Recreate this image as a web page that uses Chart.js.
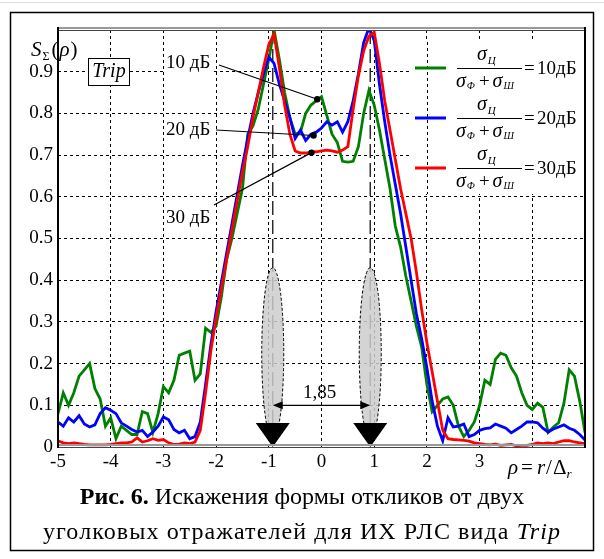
<!DOCTYPE html>
<html>
<head>
<meta charset="utf-8">
<script src="https://cdn.jsdelivr.net/npm/chart.js@4.4.0/dist/chart.umd.min.js"></script>
<style>
html, body { margin: 0; padding: 0; background: #fff; }
#wrap { position: relative; width: 604px; height: 559px; }
#caption {
    position: absolute; left: 0; top: 479px; width: 604px;
    text-align: center; font-family: "Liberation Serif", serif;
    font-size: 24px; line-height: 35px; color: #000;
}
#caption .l2 { letter-spacing: 1.1px; }
</style>
</head>
<body>
<div id="wrap">
    <canvas id="chart" width="604" height="559"></canvas>
    <div id="caption"><b>Рис. 6.</b> Искажения формы откликов от двух<br><span class="l2">уголковых отражателей для ИХ РЛС вида <i>Trip</i></span></div>
</div>
<script>
// rho = r / delta_r, step 0.1
const rho = [
    -5.0, -4.9, -4.8, -4.7, -4.6, -4.5, -4.4, -4.3, -4.2, -4.1,
    -4.0, -3.9, -3.8, -3.7, -3.6, -3.5, -3.4, -3.3, -3.2, -3.1,
    -3.0, -2.9, -2.8, -2.7, -2.6, -2.5, -2.4, -2.3, -2.2, -2.1,
    -2.0, -1.9, -1.8, -1.7, -1.6, -1.5, -1.4, -1.3, -1.2, -1.1,
    -1.0, -0.9, -0.8, -0.7, -0.6, -0.5, -0.4, -0.3, -0.2, -0.1,
    0.0, 0.1, 0.2, 0.3, 0.4, 0.5, 0.6, 0.7, 0.8, 0.9,
    1.0, 1.1, 1.2, 1.3, 1.4, 1.5, 1.6, 1.7, 1.8, 1.9,
    2.0, 2.1, 2.2, 2.3, 2.4, 2.5, 2.6, 2.7, 2.8, 2.9,
    3.0, 3.1, 3.2, 3.3, 3.4, 3.5, 3.6, 3.7, 3.8, 3.9,
    4.0, 4.1, 4.2, 4.3, 4.4, 4.5, 4.6, 4.7, 4.8, 4.9,
    5.0
];

// S_sigma(rho), 10 dB
const s10 = [
    0.08, 0.13, 0.10, 0.13, 0.17, 0.185, 0.20, 0.14, 0.115, 0.05,
    0.07, 0.02, 0.05, 0.04, 0.03, 0.03, 0.085, 0.08, 0.035, 0.08,
    0.145, 0.13, 0.16, 0.22, 0.225, 0.23, 0.16, 0.175, 0.285, 0.275,
    0.29, 0.36, 0.45, 0.50, 0.56, 0.62, 0.75, 0.77, 0.81, 0.87,
    0.93, 1.0, 0.93, 0.85, 0.79, 0.75, 0.755, 0.80, 0.82, 0.83,
    0.84, 0.795, 0.75, 0.73, 0.685, 0.683, 0.685, 0.72, 0.80, 0.855,
    0.82, 0.76, 0.69, 0.62, 0.53, 0.48, 0.41, 0.35, 0.29, 0.24,
    0.15, 0.085, 0.10, 0.115, 0.12, 0.10, 0.05, 0.025, 0.04, 0.06,
    0.10, 0.16, 0.15, 0.21, 0.225, 0.22, 0.19, 0.17, 0.13, 0.10,
    0.09, 0.105, 0.095, 0.035, 0.048, 0.058, 0.105, 0.185, 0.17, 0.11,
    0.035
];

// 20 dB
const s20 = [
    0.06, 0.05, 0.07, 0.06, 0.075, 0.055, 0.048, 0.053, 0.08, 0.094,
    0.088, 0.08, 0.058, 0.05, 0.042, 0.036, 0.04, 0.025, 0.036, 0.05,
    0.072, 0.065, 0.042, 0.034, 0.04, 0.02, 0.025, 0.06, 0.15, 0.245,
    0.325, 0.395, 0.465, 0.535, 0.605, 0.675, 0.74, 0.80, 0.85, 0.895,
    0.935, 0.92, 0.87, 0.83, 0.79, 0.74, 0.76, 0.735, 0.75, 0.755,
    0.765, 0.78, 0.772, 0.78, 0.755, 0.78, 0.83, 0.895, 0.97, 1.005,
    0.975, 0.87, 0.78, 0.70, 0.63, 0.56, 0.48, 0.40, 0.32, 0.26,
    0.19, 0.11, 0.05, 0.015, 0.07, 0.048, 0.05, 0.055, 0.025, 0.03,
    0.04, 0.044, 0.046, 0.055, 0.05, 0.045, 0.034, 0.042, 0.05, 0.06,
    0.06, 0.058, 0.045, 0.036, 0.043, 0.048, 0.053, 0.045, 0.04, 0.03,
    0.017
];

// 30 dB
const s30 = [
    0.015, 0.01, 0.008, 0.01, 0.008, 0.006, 0.005, 0.005, 0.005, 0.005,
    0.006, 0.008, 0.01, 0.01, 0.012, 0.022, 0.012, 0.015, 0.02, 0.016,
    0.018, 0.01, 0.006, 0.007, 0.01, 0.008, 0.012, 0.04, 0.13, 0.23,
    0.31, 0.38, 0.45, 0.52, 0.59, 0.66, 0.72, 0.79, 0.85, 0.91,
    0.965, 0.99, 0.91, 0.82, 0.75, 0.71, 0.705, 0.705, 0.707, 0.708,
    0.71, 0.712, 0.71, 0.707, 0.712, 0.72, 0.81, 0.89, 0.95, 0.985,
    0.995, 0.92, 0.83, 0.76, 0.69, 0.62, 0.56, 0.50, 0.42, 0.33,
    0.25, 0.18, 0.11, 0.04, 0.02, 0.018, 0.017, 0.016, 0.014, 0.01,
    0.008, 0.006, 0.005, 0.007, 0.004, 0.005, 0.006, 0.003, 0.004, 0.004,
    0.006, 0.01, 0.008, 0.01, 0.008, 0.012, 0.015, 0.015, 0.012, 0.01,
    0.008
];

const seriesLabels = ['10дБ', '20дБ', '30дБ'];
const seriesColors = ['#008000', '#0000ff', '#ff0000'];

// annotation points (data units)
const targetPos = [-0.925, 0.925];
const spacingLabel = '1,85';
const markerLabels = ['10 дБ', '20 дБ', '30 дБ'];
const markerPoints = [[-0.08, 0.834], [-0.15, 0.747], [-0.19, 0.706]];

const serif = '"Liberation Serif", "Times New Roman", serif';

function toPoints(values) {
    return values.map((v, i) => ({x: rho[i], y: v}));
}

/**
 * Draws text pieces one after another
 * @param ctx
 * @param x
 * @param y
 * @param parts [text, font, dy, gap]
 */
function drawRun(ctx, x, y, parts) {
    ctx.textAlign = 'left';
    ctx.textBaseline = 'alphabetic';
    for (const p of parts) {
        ctx.font = p[1];
        ctx.fillText(p[0], x, y + (p[2] || 0));
        x += ctx.measureText(p[0]).width + (p[3] || 0);
    }
}

const decorPlugin = {
    id: 'decor',
    beforeDatasetsDraw(chart) {
        const ctx = chart.ctx;
        const xs = chart.scales.x, ys = chart.scales.y;
        const area = chart.chartArea;
        const y0 = ys.getPixelForValue(0);
        ctx.save();

        // legend area: hide the grid behind it, keep the x = 2 line
        ctx.fillStyle = '#fff';
        ctx.fillRect(411, 42, 173, 152);
        const x2 = Math.round(xs.getPixelForValue(2)) + 0.5;
        ctx.strokeStyle = '#000';
        ctx.lineWidth = 1;
        ctx.setLineDash([3, 3]);
        ctx.beginPath();
        ctx.moveTo(x2, 42); ctx.lineTo(x2, 194);
        ctx.stroke();

        for (const t of targetPos) {
            const cx = xs.getPixelForValue(t);
            // long-dash vertical line
            ctx.strokeStyle = '#222';
            ctx.lineWidth = 1.4;
            ctx.setLineDash([14, 5]);
            ctx.beginPath();
            ctx.moveTo(cx, area.top);
            ctx.lineTo(cx, y0 - 22);
            ctx.stroke();
            // ellipse
            const eTop = ys.getPixelForValue(0.43);
            const eBot = y0 - 8;
            ctx.setLineDash([3, 2]);
            ctx.lineWidth = 1;
            ctx.fillStyle = 'rgba(205,205,205,0.85)';
            ctx.beginPath();
            ctx.ellipse(cx, (eTop + eBot) / 2, 11, (eBot - eTop) / 2, 0, 0, Math.PI * 2);
            ctx.fill();
            ctx.strokeStyle = '#000';
            ctx.stroke();
            ctx.setLineDash([]);
        }
        // spacing arrow
        const xl = xs.getPixelForValue(targetPos[0]);
        const xr = xs.getPixelForValue(targetPos[1]);
        const ya = ys.getPixelForValue(0.1);
        ctx.strokeStyle = '#000';
        ctx.fillStyle = '#000';
        ctx.lineWidth = 1.3;
        ctx.beginPath();
        ctx.moveTo(xl + 6, ya);
        ctx.lineTo(xr - 6, ya);
        ctx.stroke();
        ctx.beginPath();
        ctx.moveTo(xl, ya); ctx.lineTo(xl + 10, ya - 4); ctx.lineTo(xl + 10, ya + 4); ctx.closePath();
        ctx.moveTo(xr, ya); ctx.lineTo(xr - 10, ya - 4); ctx.lineTo(xr - 10, ya + 4); ctx.closePath();
        ctx.fill();
        ctx.font = '19px ' + serif;
        ctx.textAlign = 'center';
        ctx.textBaseline = 'alphabetic';
        ctx.fillText(spacingLabel, (xl + xr) / 2 - 2, ya - 7);
        // triangles
        for (const t of targetPos) {
            const cx = xs.getPixelForValue(t);
            ctx.beginPath();
            ctx.moveTo(cx, y0);
            ctx.lineTo(cx - 17, y0 - 24);
            ctx.lineTo(cx + 17, y0 - 24);
            ctx.closePath();
            ctx.fill();
        }
        ctx.restore();
    },
    afterDraw(chart) {
        const ctx = chart.ctx;
        const xs = chart.scales.x, ys = chart.scales.y;
        const a = chart.chartArea;
        ctx.save();
        // outer frame
        ctx.strokeStyle = '#ddd';
        ctx.lineWidth = 1;
        ctx.beginPath(); ctx.moveTo(0, 2.5); ctx.lineTo(604, 2.5); ctx.stroke();
        ctx.strokeStyle = '#000';
        ctx.lineWidth = 1.5;
        ctx.strokeRect(10.5, 12.5, 583, 538);
        // plot frame
        ctx.strokeStyle = '#999';
        ctx.lineWidth = 2;
        ctx.beginPath();
        ctx.moveTo(a.left, a.top - 2); ctx.lineTo(a.right, a.top - 2);
        ctx.moveTo(a.left, a.bottom - 2); ctx.lineTo(a.right, a.bottom - 2);
        ctx.stroke();
        ctx.strokeStyle = '#444';
        ctx.lineWidth = 1;
        ctx.beginPath();
        ctx.moveTo(a.left, a.top + 0.5); ctx.lineTo(a.right, a.top + 0.5);
        ctx.moveTo(a.left, a.bottom + 0.5); ctx.lineTo(a.right, a.bottom + 0.5);
        ctx.stroke();
        ctx.strokeStyle = '#000';
        ctx.lineWidth = 2;
        ctx.beginPath();
        ctx.moveTo(a.left, a.top - 3); ctx.lineTo(a.left, a.bottom + 1);
        ctx.moveTo(a.right, a.top - 3); ctx.lineTo(a.right, a.bottom + 1);
        ctx.stroke();

        ctx.fillStyle = '#000';
        // y axis title S_Sigma(rho)
        drawRun(ctx, 31, 56, [
            ['S', 'italic 21px ' + serif, 0, 1],
            ['Σ', '12px ' + serif, 4, 2],
            ['(', '21px ' + serif, 0, 1],
            ['ρ', 'italic 21px ' + serif, 0, 1],
            [')', '21px ' + serif]
        ]);
        // x axis title
        drawRun(ctx, 508, 474, [
            ['ρ', 'italic 21px ' + serif, 0, 3],
            ['=', '21px ' + serif, 0, 4],
            ['r', 'italic 21px ' + serif, 0, 1],
            ['/', '21px ' + serif, 0, 1],
            ['Δ', '21px ' + serif],
            ['r', 'italic 13px ' + serif, 4]
        ]);

        // Trip box
        ctx.fillStyle = '#fff';
        ctx.fillRect(88, 58, 41, 27);
        ctx.strokeStyle = '#000';
        ctx.lineWidth = 1;
        ctx.strokeRect(88.5, 58.5, 41, 27);
        ctx.fillStyle = '#000';
        ctx.font = 'italic 20px ' + serif;
        ctx.textAlign = 'center';
        ctx.textBaseline = 'middle';
        ctx.fillText('Trip', 109, 72);

        // markers with leader lines
        const labelPos = [[166, 63], [166, 130], [166, 218]];
        const lineStart = [[219, 65], [216, 130], [214, 205]];
        ctx.font = '19px ' + serif;
        ctx.textAlign = 'left';
        for (let i = 0; i < markerLabels.length; i++) {
            const px = xs.getPixelForValue(markerPoints[i][0]);
            const py = ys.getPixelForValue(markerPoints[i][1]);
            ctx.fillStyle = '#fff';
            const w = ctx.measureText(markerLabels[i]).width;
            ctx.fillRect(labelPos[i][0] - 1, labelPos[i][1] - 10, w + 2, 20);
            ctx.fillStyle = '#000';
            ctx.fillText(markerLabels[i], labelPos[i][0], labelPos[i][1]);
            ctx.lineWidth = 1.2;
            ctx.beginPath();
            ctx.moveTo(lineStart[i][0], lineStart[i][1]);
            ctx.lineTo(px, py);
            ctx.stroke();
            ctx.beginPath();
            ctx.arc(px, py, 3.2, 0, Math.PI * 2);
            ctx.fill();
        }

        // legend
        for (let i = 0; i < seriesLabels.length; i++) {
            const y = 68 + i * 50;
            ctx.strokeStyle = seriesColors[i];
            ctx.lineWidth = 3;
            ctx.beginPath();
            ctx.moveTo(415, y); ctx.lineTo(446, y);
            ctx.stroke();
            ctx.strokeStyle = '#000';
            ctx.lineWidth = 1;
            ctx.beginPath();
            ctx.moveTo(457, y + 0.5); ctx.lineTo(522, y + 0.5);
            ctx.stroke();
            ctx.fillStyle = '#000';
            drawRun(ctx, 477, y - 8, [
                ['σ', 'italic 20px ' + serif, 0, 1],
                ['Ц', 'italic 11px ' + serif, 4]
            ]);
            drawRun(ctx, 456, y + 19, [
                ['σ', 'italic 20px ' + serif, 0, 1],
                ['Ф', 'italic 10px ' + serif, 2, 4],
                ['+', '19px ' + serif, 0, 3],
                ['σ', 'italic 20px ' + serif, 0, 1],
                ['Ш', 'italic 10px ' + serif, 2]
            ]);
            ctx.font = '19px ' + serif;
            ctx.textAlign = 'left';
            ctx.textBaseline = 'middle';
            ctx.fillText('=', 524, y + 1);
            ctx.fillText(seriesLabels[i], 537, y + 1);
        }
        ctx.restore();
    }
};

new Chart(document.getElementById('chart'), {
    type: 'line',
    data: {
        datasets: [
            {label: seriesLabels[0], data: toPoints(s10), borderColor: seriesColors[0], order: 3},
            {label: seriesLabels[1], data: toPoints(s20), borderColor: seriesColors[1], order: 2},
            {label: seriesLabels[2], data: toPoints(s30), borderColor: seriesColors[2], order: 1}
        ]
    },
    options: {
        responsive: false,
        animation: false,
        layout: {padding: {left: 0, right: 19, top: 30, bottom: 0}},
        elements: {
            point: {radius: 0},
            line: {borderWidth: 2.8, tension: 0, fill: false}
        },
        plugins: {
            legend: {display: false},
            tooltip: {enabled: false}
        },
        scales: {
            x: {
                type: 'linear',
                min: -5,
                max: 5,
                ticks: {
                    stepSize: 1,
                    color: '#000',
                    padding: 4,
                    font: {family: serif, size: 19},
                    callback: v => (v >= 4 ? '' : String(v))
                },
                grid: {color: '#000', lineWidth: 1, drawTicks: false},
                border: {display: false, dash: [3, 3]},
                afterFit: s => { s.height = 112; }
            },
            y: {
                min: 0,
                max: 1,
                ticks: {
                    stepSize: 0.1,
                    color: '#000',
                    padding: 5,
                    font: {family: serif, size: 19},
                    callback: v => (v > 0.95 ? '' : (v === 0 ? '0' : v.toFixed(1)))
                },
                grid: {color: '#000', lineWidth: 1, drawTicks: false},
                border: {display: false, dash: [3, 3]},
                afterFit: s => { s.width = 58; }
            }
        }
    },
    plugins: [decorPlugin]
});
</script>
</body>
</html>
